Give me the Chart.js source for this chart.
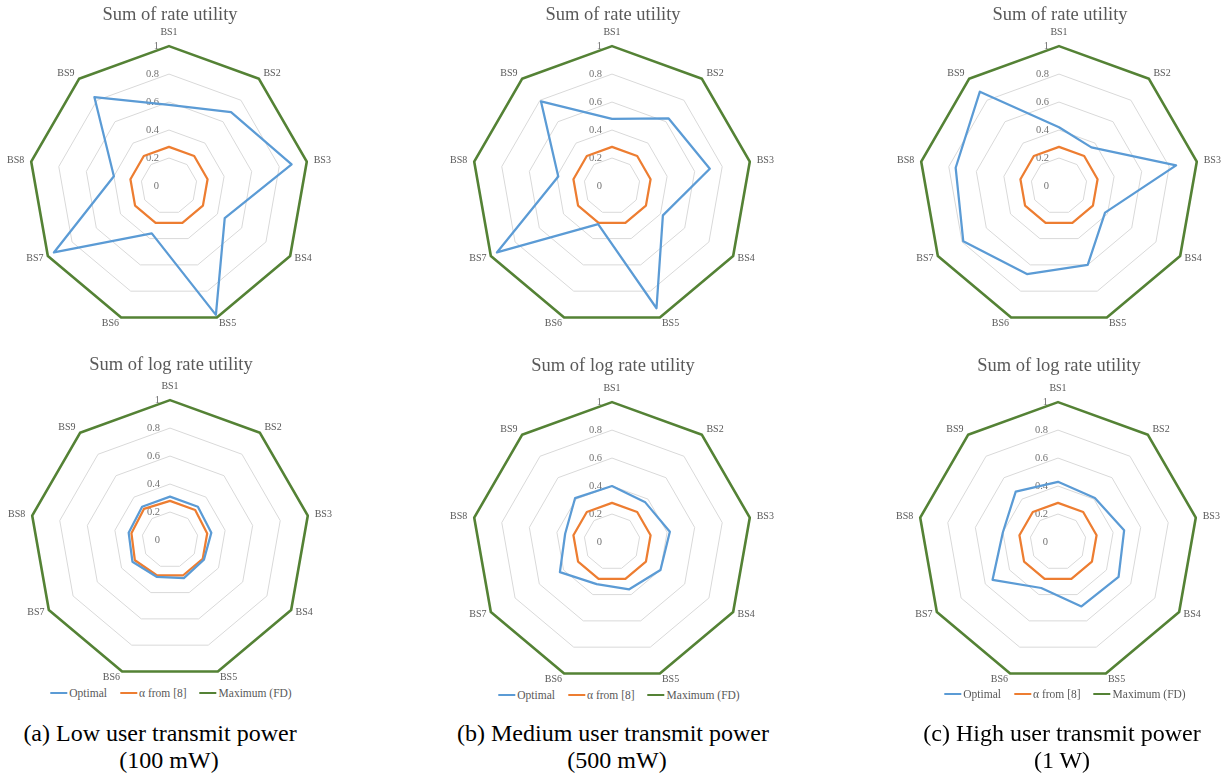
<!DOCTYPE html>
<html>
<head>
<meta charset="utf-8">
<script src="https://cdn.jsdelivr.net/npm/chart.js@4.4.1/dist/chart.umd.min.js"></script>
<style>
  html, body { margin: 0; padding: 0; background: #fff; }
  body { position: relative; width: 1229px; height: 773px; overflow: hidden; }
  canvas { position: absolute; }
  .legend { position: absolute; display: flex; align-items: center; white-space: nowrap;
            font: 11.5px 'Liberation Serif', serif; color: #595959; transform: translate(-50%, -50%); }
  .legend .item { display: flex; align-items: center; margin-right: 13px; }
  .legend .item:last-child { margin-right: 0; }
  .legend .swatch { width: 17px; height: 2px; margin-right: 2px; }
  .cap { position: absolute; white-space: nowrap; font: 24px 'Liberation Serif', serif; color: #000;
         line-height: 1; transform: translate(-50%, -50%); }
</style>
</head>
<body>
<canvas id="c1" width="340" height="333" style="left:0px;top:0px"></canvas>
<canvas id="c2" width="340" height="333" style="left:443px;top:0px"></canvas>
<canvas id="c3" width="340" height="333" style="left:890px;top:0px"></canvas>
<canvas id="c4" width="340" height="337" style="left:1px;top:350px"></canvas>
<canvas id="c5" width="340" height="339" style="left:443px;top:350px"></canvas>
<canvas id="c6" width="340" height="339" style="left:889px;top:350px"></canvas>

<div class="legend" id="lg4" style="left:171px;top:693px"></div>
<div class="legend" id="lg5" style="left:619px;top:695px"></div>
<div class="legend" id="lg6" style="left:1065px;top:694px"></div>

<div class="cap" style="left:160px;top:733px">(a) Low user transmit power</div>
<div class="cap" style="left:169px;top:760px">(100 mW)</div>
<div class="cap" style="left:613px;top:733px">(b) Medium user transmit power</div>
<div class="cap" style="left:617px;top:760px">(500 mW)</div>
<div class="cap" style="left:1062px;top:733px">(c) High user transmit power</div>
<div class="cap" style="left:1062px;top:760px">(1 W)</div>

<script>
// Axes: nine base stations, radial scale 0..1
const stations = ['BS1', 'BS2', 'BS3', 'BS4', 'BS5', 'BS6', 'BS7', 'BS8', 'BS9'];
const rTicks = [0, 0.2, 0.4, 0.6, 0.8, 1];
const rTickLabels = ['0', '0.2', '0.4', '0.6', '0.8', '1'];
const seriesNames = ['Optimal', '\u03b1 from [8]', 'Maximum (FD)'];

// Sum of rate utility (normalised to full duplex)
const rateOptimalLow  = [0.58, 0.69, 0.89, 0.46, 0.98, 0.36, 0.95, 0.40, 0.83];
const rateOptimalMed  = [0.48, 0.63, 0.71, 0.42, 0.93, 0.29, 0.95, 0.39, 0.79];
const rateOptimalHigh = [0.42, 0.36, 0.85, 0.38, 0.60, 0.67, 0.79, 0.75, 0.88];
const rateAlphaLow    = [0.28, 0.28, 0.28, 0.28, 0.28, 0.28, 0.28, 0.28, 0.28];
const rateAlphaMed    = [0.28, 0.28, 0.28, 0.28, 0.28, 0.28, 0.28, 0.28, 0.28];
const rateAlphaHigh   = [0.28, 0.28, 0.28, 0.28, 0.28, 0.28, 0.28, 0.28, 0.28];

// Sum of log rate utility (normalised to full duplex)
const logOptimalLow  = [0.31, 0.31, 0.30, 0.28, 0.29, 0.28, 0.31, 0.30, 0.31];
const logOptimalMed  = [0.40, 0.37, 0.42, 0.40, 0.36, 0.32, 0.43, 0.34, 0.41];
const logOptimalHigh = [0.43, 0.41, 0.48, 0.50, 0.49, 0.35, 0.54, 0.40, 0.47];
const logAlphaLow    = [0.28, 0.28, 0.27, 0.27, 0.27, 0.27, 0.29, 0.28, 0.29];
const logAlphaMed    = [0.28, 0.28, 0.28, 0.28, 0.28, 0.28, 0.28, 0.28, 0.28];
const logAlphaHigh   = [0.28, 0.28, 0.28, 0.28, 0.28, 0.28, 0.28, 0.28, 0.28];

// Full-duplex reference
const maximumFD = [1, 1, 1, 1, 1, 1, 1, 1, 1];

const COLORS = ['#5B9BD5', '#ED7D31', '#548235'];
const LABEL_PAD = [14, 7, 7, 5, 6, 6, 5, 7, 7];

Chart.defaults.font.family = "'Liberation Serif', serif";
Chart.defaults.color = '#595959';

// Radial tick labels, drawn just left of the BS1 spoke (including 0)
const tickLabelPlugin = {
  id: 'tickLabels',
  beforeDatasetsDraw(chart) {
    const s = chart.scales.r;
    const ctx = chart.ctx;
    ctx.save();
    ctx.font = "10.5px 'Liberation Serif', serif";
    ctx.fillStyle = '#737373';
    ctx.textAlign = 'right';
    ctx.textBaseline = 'middle';
    s.ticks.forEach(t => {
      ctx.fillText(t.label, s.xCenter - 10, s.yCenter - s.getDistanceFromCenterForValue(t.value));
    });
    ctx.restore();
  }
};

// Legend rendered as HTML from the chart's own legend items
const htmlLegendPlugin = {
  id: 'htmlLegend',
  afterUpdate(chart, args, opts) {
    if (!opts.container) return;
    const box = document.getElementById(opts.container);
    box.innerHTML = '';
    Chart.defaults.plugins.legend.labels.generateLabels(chart).forEach(item => {
      const el = document.createElement('span');
      el.className = 'item';
      const sw = document.createElement('span');
      sw.className = 'swatch';
      sw.style.background = item.strokeStyle;
      const tx = document.createElement('span');
      tx.textContent = item.text;
      el.appendChild(sw);
      el.appendChild(tx);
      box.appendChild(el);
    });
  }
};

const panels = [
  { id: 'c1', title: 'Sum of rate utility',     optimal: rateOptimalLow,  alpha: rateAlphaLow,  pad: { top: 5.5,  bottom: 1 } },
  { id: 'c2', title: 'Sum of rate utility',     optimal: rateOptimalMed,  alpha: rateAlphaMed,  pad: { top: 5.5,  bottom: 1 } },
  { id: 'c3', title: 'Sum of rate utility',     optimal: rateOptimalHigh, alpha: rateAlphaHigh, pad: { top: 5.5,  bottom: 1 } },
  { id: 'c4', title: 'Sum of log rate utility', optimal: logOptimalLow,   alpha: logAlphaLow,   pad: { top: 5.75, bottom: 4.75 }, legend: 'lg4' },
  { id: 'c5', title: 'Sum of log rate utility', optimal: logOptimalMed,   alpha: logAlphaMed,   pad: { top: 6.75, bottom: 5.75 }, legend: 'lg5' },
  { id: 'c6', title: 'Sum of log rate utility', optimal: logOptimalHigh,  alpha: logAlphaHigh,  pad: { top: 6.75, bottom: 5.75 }, legend: 'lg6' }
];

panels.forEach(p => {
  new Chart(document.getElementById(p.id), {
    type: 'radar',
    data: {
      labels: stations,
      datasets: [
        { label: seriesNames[0], data: p.optimal, borderColor: COLORS[0], backgroundColor: COLORS[0] },
        { label: seriesNames[1], data: p.alpha,   borderColor: COLORS[1], backgroundColor: COLORS[1] },
        { label: seriesNames[2], data: maximumFD, borderColor: COLORS[2], backgroundColor: COLORS[2], borderWidth: 2.6 }
      ]
    },
    options: {
      responsive: false,
      animation: false,
      devicePixelRatio: 1,
      layout: { padding: 0 },
      elements: {
        line: { tension: 0, borderWidth: 2.25, borderJoinStyle: 'round', fill: false },
        point: { radius: 0, hoverRadius: 0, hitRadius: 0 }
      },
      plugins: {
        legend: { display: false },
        tooltip: { enabled: false },
        title: {
          display: true, text: p.title, color: '#595959',
          font: { size: 18.5, weight: 'normal', lineHeight: 1 },
          padding: p.pad
        },
        htmlLegend: { container: p.legend || null }
      },
      scales: {
        r: {
          min: 0, max: 1,
          afterBuildTicks: s => { s.ticks = rTicks.map(v => ({ value: v })); },
          ticks: { display: false, callback: (v, i) => rTickLabels[i] },
          grid: { color: '#d9d9d9', lineWidth: 1 },
          angleLines: { display: false },
          pointLabels: {
            color: '#595959',
            font: { size: 10, lineHeight: 0.01 },
            padding: c => LABEL_PAD[c.index]
          }
        }
      }
    },
    plugins: [tickLabelPlugin, htmlLegendPlugin]
  });
});
</script>
</body>
</html>
